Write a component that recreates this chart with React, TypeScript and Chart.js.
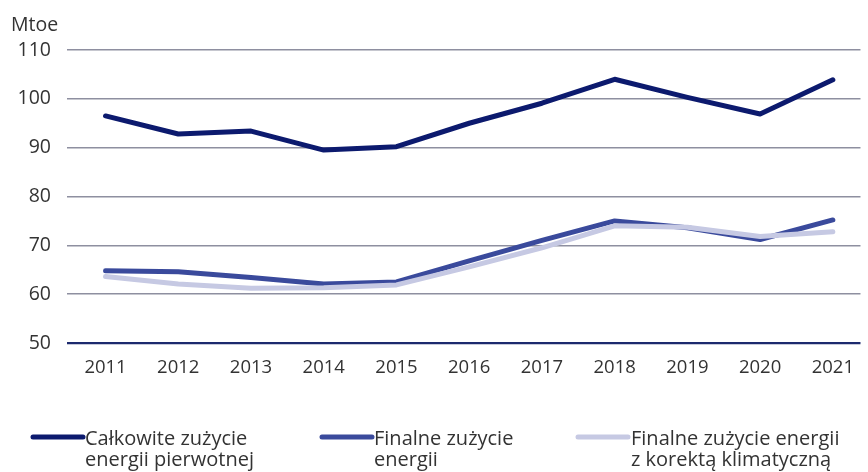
import React, { useEffect, useRef } from "react";
import { Chart, registerables } from "chart.js";

Chart.register(...registerables);

const years = [2011, 2012, 2013, 2014, 2015, 2016, 2017, 2018, 2019, 2020, 2021];
const primaryEnergy = [96.5, 92.8, 93.4, 89.5, 90.2, 95.0, 99.1, 104.0, 100.3, 96.9, 103.9];
const finalEnergy = [64.8, 64.6, 63.4, 62.1, 62.5, 66.8, 71.0, 75.0, 73.6, 71.2, 75.2];
const finalClimate = [63.6, 62.1, 61.2, 61.3, 61.9, 65.6, 69.5, 74.0, 73.7, 71.8, 72.8];
const yTicks = [50, 60, 70, 80, 90, 100, 110];
const unitLabel = "Mtoe";
const legendLabels = [
  ["Całkowite zużycie", "energii pierwotnej"],
  ["Finalne zużycie", "energii"],
  ["Finalne zużycie energii", "z korektą klimatyczną"],
];

const COLORS = ["#0c1a6e", "#3a4a9c", "#c6c9e3"];
const FONT = "'Open Sans', 'Noto Sans', sans-serif";
const TEXT = "#333333";

const toPoints = (vals: number[]) => years.map((x, i) => ({ x, y: vals[i] }));

const overlayPlugin = {
  id: "overlay",
  afterDraw(chart: any) {
    const ctx = chart.ctx as CanvasRenderingContext2D;
    ctx.save();
    ctx.fillStyle = TEXT;
    ctx.font = `19.5px ${FONT}`;
    ctx.textAlign = "left";
    ctx.textBaseline = "alphabetic";
    ctx.fillText(unitLabel, 11, 31);

    const items = [
      { x0: 33, x1: 83, tx: 85 },
      { x0: 322, x1: 372, tx: 374 },
      { x0: 578, x1: 628, tx: 631 },
    ];
    items.forEach((it, i) => {
      ctx.strokeStyle = COLORS[i];
      ctx.lineWidth = 5;
      ctx.lineCap = "round";
      ctx.beginPath();
      ctx.moveTo(it.x0, 437);
      ctx.lineTo(it.x1, 437);
      ctx.stroke();
      ctx.fillStyle = TEXT;
      ctx.font = `20px ${FONT}`;
      ctx.fillText(legendLabels[i][0], it.tx, 445);
      ctx.fillText(legendLabels[i][1], it.tx, 466);
    });
    ctx.restore();
  },
};

export default function App() {
  const ref = useRef<HTMLCanvasElement | null>(null);
  useEffect(() => {
    if (!ref.current) return;
    const mk = (label: string, vals: number[], i: number, order: number) => ({
      label,
      data: toPoints(vals),
      borderColor: COLORS[i],
      backgroundColor: COLORS[i],
      borderWidth: 5,
      pointRadius: 0,
      tension: 0,
      borderCapStyle: "round" as const,
      borderJoinStyle: "round" as const,
      order,
    });
    const chart = new Chart(ref.current, {
      type: "line",
      data: {
        datasets: [
          mk(legendLabels[0].join(" "), primaryEnergy, 0, 0),
          mk(legendLabels[1].join(" "), finalEnergy, 1, 2),
          mk(legendLabels[2].join(" "), finalClimate, 2, 1),
        ],
      },
      options: {
        responsive: false,
        animation: false,
        layout: { padding: { top: 50, left: 0, right: 0, bottom: 0 } },
        plugins: { legend: { display: false }, tooltip: { enabled: false }, title: { display: false } },
        scales: {
          x: {
            type: "linear",
            min: 2011 - 0.53,
            max: 2021 + 0.38,
            afterBuildTicks: (scale: any) => {
              scale.ticks = years.map((v) => ({ value: v }));
            },
            afterFit: (scale: any) => {
              scale.height = 129;
            },
            grid: { display: false, drawTicks: false },
            border: { display: false },
            ticks: {
              color: TEXT,
              font: { family: FONT, size: 18.5 },
              padding: 14,
              maxRotation: 0,
              autoSkip: false,
              callback: (v: any) => String(v),
            },
          },
          y: {
            min: 50,
            max: 110,
            afterBuildTicks: (scale: any) => {
              scale.ticks = yTicks.map((v) => ({ value: v }));
            },
            afterFit: (scale: any) => {
              scale.width = 67;
            },
            grid: {
              drawTicks: false,
              color: (c: any) => (c.tick && c.tick.value === 50 ? "#1c2a6e" : "#8e8fa0"),
              lineWidth: (c: any) => (c.tick && c.tick.value === 50 ? 2.2 : 1.6),
            },
            border: { display: false },
            ticks: {
              color: TEXT,
              font: { family: FONT, size: 19.5 },
              padding: 16,
            },
          },
        },
      },
      plugins: [overlayPlugin],
    });
    return () => chart.destroy();
  }, []);
  return (
    <div style={{ position: "absolute", left: 0, top: 0, width: 868, height: 472, background: "#fff" }}>
      <canvas ref={ref} width={868} height={472} style={{ width: 868, height: 472, display: "block" }} />
    </div>
  );
}
